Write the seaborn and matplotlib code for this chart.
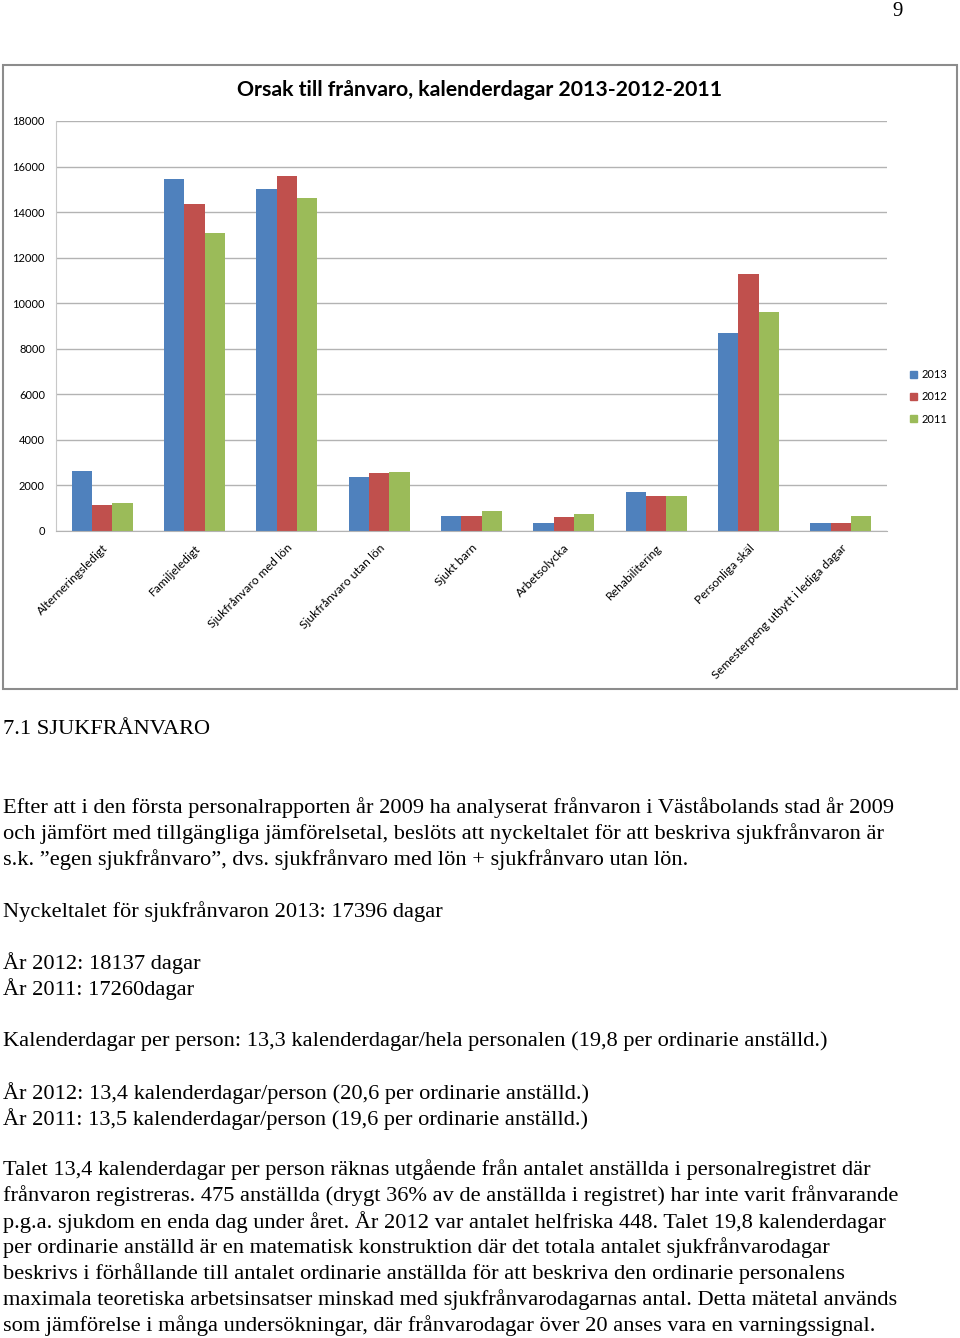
import matplotlib
matplotlib.use("Agg")
import matplotlib.pyplot as plt
import matplotlib.patches as mpatches
import pandas as pd
import seaborn as sns

# Data
kategorier = ["Alterneringsledigt", "Familjeledigt", "Sjukfrånvaro med lön",
              "Sjukfrånvaro utan lön", "Sjukt barn", "Arbetsolycka",
              "Rehabilitering", "Personliga skäl",
              "Semesterpeng utbytt i lediga dagar"]
ar = ["2013", "2012", "2011"]
dagar_2013 = [2650, 15450, 15000, 2390, 660, 370, 1700, 8680, 350]
dagar_2012 = [1150, 14350, 15570, 2530, 660, 630, 1550, 11290, 370]
dagar_2011 = [1250, 13070, 14600, 2600, 890, 760, 1520, 9610, 660]
y_ticks = [0, 2000, 4000, 6000, 8000, 10000, 12000, 14000, 16000, 18000]

farger = ["#4F81BD", "#C0504D", "#9BBB59"]

df = pd.DataFrame({
    "kategori": kategorier * 3,
    "år": [a for a in ar for _ in kategorier],
    "dagar": dagar_2013 + dagar_2012 + dagar_2011,
})

W, H = 960, 1338
fig = plt.figure(figsize=(W / 100, H / 100), dpi=100)

def fx(px):
    return px / W

def fy(py):
    return 1 - py / H

# ram runt diagrammet
fig.patches.append(mpatches.Rectangle((fx(3), fy(689)), fx(954), (689 - 65) / H,
                                      transform=fig.transFigure, fill=False,
                                      edgecolor="#8C8C8C", linewidth=1.5))

ax = fig.add_axes([fx(56), fy(531), fx(887 - 56), (531 - 121) / H])
sns.barplot(data=df, x="kategori", y="dagar", hue="år", hue_order=ar,
            palette=farger, width=0.66, gap=0, saturation=1,
            linewidth=0, ax=ax, legend=False)

ax.set_xlim(-0.5, len(kategorier) - 0.5)
ax.set_ylim(0, 18000)
ax.set_yticks(y_ticks)
ax.set_yticklabels([str(t) for t in y_ticks], family="Lato", fontsize=8)
ax.set_xticks(range(len(kategorier)))
ax.set_xticklabels(kategorier, rotation=45, ha="right", rotation_mode="anchor",
                   family="Lato", fontsize=8.7)
ax.tick_params(axis="both", length=0)
ax.tick_params(axis="y", pad=8)
ax.tick_params(axis="x", pad=8)
ax.set_xlabel("")
ax.set_ylabel("")
ax.set_axisbelow(True)
ax.yaxis.grid(True, color="#B3B3B3", linewidth=1)
for s in ["top", "right"]:
    ax.spines[s].set_visible(False)
ax.spines["left"].set_color("#C8C8C8")
ax.spines["bottom"].set_color("#B3B3B3")

fig.text(fx(480), fy(90), "Orsak till frånvaro, kalenderdagar 2013-2012-2011",
         ha="center", va="center", family="Lato", fontweight="bold", fontsize=15.3)

# förklaring
handles = [mpatches.Patch(color=c, label=a) for c, a in zip(farger, ar)]
fig.legend(handles=handles, loc="center left", bbox_to_anchor=(fx(900), fy(397)),
           frameon=False, handlelength=0.6, handleheight=0.6, handletextpad=0.4,
           labelspacing=1.0, prop={"family": "Lato", "size": 8})

# sidnummer
serif = "Liberation Serif"
fig.text(fx(898), fy(12), "9", ha="center", va="center", family=serif, fontsize=15)

rader = [
    (728, "7.1 SJUKFRÅNVARO"),
    (806, "Efter att i den första personalrapporten år 2009 ha analyserat frånvaron i Väståbolands stad år 2009"),
    (832, "och jämfört med tillgängliga jämförelsetal, beslöts att nyckeltalet för att beskriva sjukfrånvaron är"),
    (858, "s.k. ”egen sjukfrånvaro”, dvs. sjukfrånvaro med lön + sjukfrånvaro utan lön."),
    (910, "Nyckeltalet för sjukfrånvaron 2013: 17396 dagar"),
    (961, "År 2012: 18137 dagar"),
    (987, "År 2011: 17260dagar"),
    (1039, "Kalenderdagar per person: 13,3 kalenderdagar/hela personalen (19,8 per ordinarie anställd.)"),
    (1091, "År 2012: 13,4 kalenderdagar/person (20,6 per ordinarie anställd.)"),
    (1117, "År 2011: 13,5 kalenderdagar/person (19,6 per ordinarie anställd.)"),
    (1168, "Talet 13,4 kalenderdagar per person räknas utgående från antalet anställda i personalregistret där"),
    (1194, "frånvaron registreras. 475 anställda (drygt 36% av de anställda i registret) har inte varit frånvarande"),
    (1220, "p.g.a. sjukdom en enda dag under året. År 2012 var antalet helfriska 448. Talet 19,8 kalenderdagar"),
    (1246, "per ordinarie anställd är en matematisk konstruktion där det totala antalet sjukfrånvarodagar"),
    (1272, "beskrivs i förhållande till antalet ordinarie anställda för att beskriva den ordinarie personalens"),
    (1298, "maximala teoretiska arbetsinsatser minskad med sjukfrånvarodagarnas antal. Detta mätetal används"),
    (1324, "som jämförelse i många undersökningar, där frånvarodagar över 20 anses vara en varningssignal."),
]
for y, t in rader:
    fig.text(fx(3), fy(y + 2), t, ha="left", va="center", family=serif, fontsize=16.1)

fig.savefig("out.png", dpi=100)
